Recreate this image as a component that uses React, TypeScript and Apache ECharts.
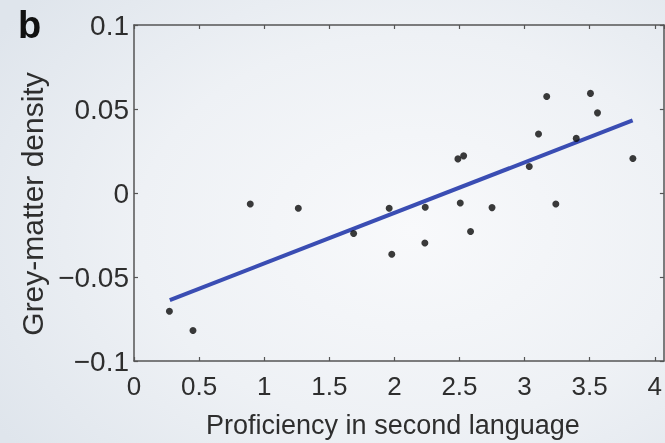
import React, { useEffect, useRef } from "react";
import * as echarts from "echarts";

const proficiency = [0.272, 0.453, 0.893, 1.262, 1.687, 1.96, 1.98, 2.234, 2.237, 2.488, 2.506, 2.532, 2.585, 2.75, 3.036, 3.107, 3.17, 3.24, 3.397, 3.506, 3.56, 3.832];
const density = [-0.0704, -0.0818, -0.0065, -0.0091, -0.0241, -0.0091, -0.0365, -0.0298, -0.0085, 0.0203, -0.0059, 0.0221, -0.0229, -0.0087, 0.0158, 0.0351, 0.0574, -0.0065, 0.0325, 0.0593, 0.0477, 0.0205];
const fitX = [0.275, 3.83];
const fitY = [-0.0637, 0.0432];
const xTickLabels = ["0", "0.5", "1", "1.5", "2", "2.5", "3", "3.5", "4"];
const yTickLabels: Record<string, string> = { "0.1": "0.1", "0.05": "0.05", "0": "0", "-0.05": "\u22120.05", "-0.1": "\u22120.1" };

const FONT = "'Liberation Sans', Arial, Helvetica, sans-serif";
const TEXT = "#2e2e2e";
const AXIS = "#555555";

export default function App() {
  const ref = useRef<HTMLDivElement>(null);
  useEffect(() => {
    if (!ref.current) return;
    const chart = echarts.init(ref.current, null, { renderer: "svg" });
    const axisLine = { show: true, onZero: false, lineStyle: { color: AXIS, width: 1.5 } };
    const tick = { show: true, inside: true, length: 4, lineStyle: { color: AXIS, width: 1.2 } };
    chart.setOption({
      animation: false,
      backgroundColor: "transparent",
      title: {
        text: "b",
        left: 13,
        top: 1,
        textStyle: { fontFamily: FONT, fontWeight: "bold", fontSize: 38, color: "#111" },
      },
      grid: { left: 134, top: 25, bottom: 80, right: -2, containLabel: false },
      xAxis: [
        {
          type: "value",
          min: 0,
          max: 4.07,
          interval: 0.5,
          position: "bottom",
          axisLine,
          axisTick: tick,
          splitLine: { show: false },
          axisLabel: {
            fontFamily: FONT,
            fontSize: 26,
            color: TEXT,
            margin: 12,
            showMaxLabel: false,
            formatter: (v: number) => {
              const i = Math.round(v / 0.5);
              return Math.abs(v - i * 0.5) < 1e-6 && i < xTickLabels.length ? xTickLabels[i] : "";
            },
          },
          name: "Proficiency in second language",
          nameLocation: "middle",
          nameGap: 50,
          nameTextStyle: { fontFamily: FONT, fontSize: 27, color: TEXT, padding: [0, 12, 0, 0] },
        },
        {
          type: "value",
          min: 0,
          max: 4.07,
          interval: 0.5,
          position: "top",
          axisLine,
          axisTick: tick,
          splitLine: { show: false },
          axisLabel: { show: false },
        },
      ],
      yAxis: [
        {
          type: "value",
          min: -0.1,
          max: 0.1,
          interval: 0.05,
          position: "left",
          axisLine,
          axisTick: tick,
          splitLine: { show: false },
          axisLabel: {
            fontFamily: FONT,
            fontSize: 28,
            color: TEXT,
            margin: 5,
            formatter: (v: number) => yTickLabels[String(Math.round(v * 100) / 100)] ?? String(v),
          },
          name: "Grey-matter density",
          nameLocation: "middle",
          nameGap: 86,
          nameRotate: 90,
          nameTextStyle: { fontFamily: FONT, fontSize: 30, color: TEXT, padding: [0, 22, 0, 0] },
        },
        {
          type: "value",
          min: -0.1,
          max: 0.1,
          interval: 0.05,
          position: "right",
          axisLine,
          axisTick: tick,
          splitLine: { show: false },
          axisLabel: { show: false },
        },
      ],
      series: [
        {
          type: "line",
          data: fitX.map((x, i) => [x, fitY[i]]),
          showSymbol: false,
          lineStyle: { color: "#3a4db3", width: 4 },
          z: 2,
        },
        {
          type: "scatter",
          data: proficiency.map((x, i) => [x, density[i]]),
          symbolSize: 7,
          itemStyle: { color: "#0a0a0a" },
          z: 3,
        },
      ],
    });
    return () => chart.dispose();
  }, []);
  return (
    <div
      style={{
        position: "fixed",
        left: 0,
        top: 0,
        width: 665,
        height: 443,
        background: "radial-gradient(ellipse 75% 80% at 62% 52%, #f8f9fb 0%, #eef1f5 55%, #dfe5ec 100%)",
      }}
    >
      <div ref={ref} style={{ width: 665, height: 443 }} />
    </div>
  );
}
